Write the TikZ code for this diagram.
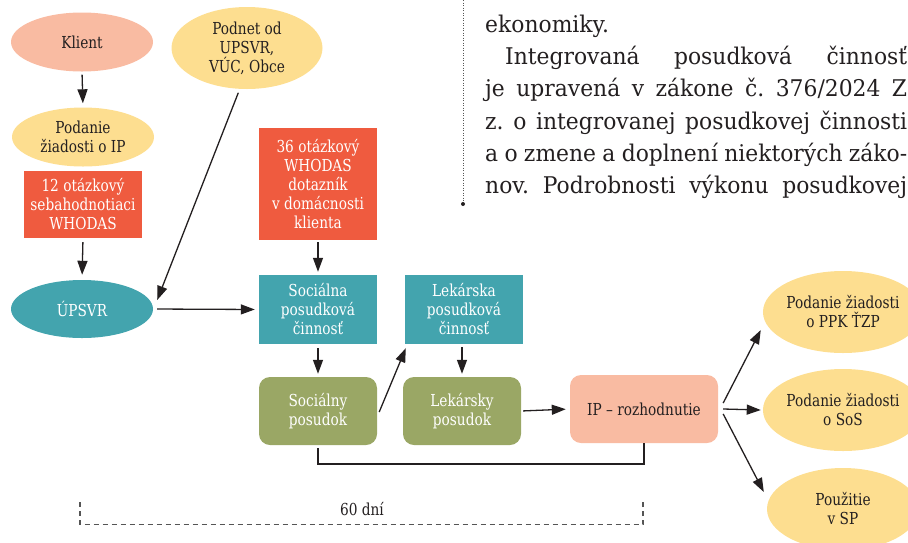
\documentclass[tikz,border=0pt]{standalone}
\usepackage{fontspec}
\setmainfont{DejaVu Serif}
\newfontfamily\lblfont{DejaVu Serif}[FakeStretch=0.83]
\newfontfamily\bodyfont{DejaVu Serif}[FakeStretch=0.95]
\usetikzlibrary{shapes.geometric,arrows.meta}
\definecolor{csalmon}{HTML}{F9BBA2}
\definecolor{cyellow}{HTML}{FDDE90}
\definecolor{cred}{HTML}{EF5B3F}
\definecolor{cteal}{HTML}{43A4AE}
\definecolor{colive}{HTML}{9AA765}
\definecolor{cdark}{HTML}{231F20}
\definecolor{cgray}{HTML}{555555}
\frenchspacing
\begin{document}
\begin{tikzpicture}[x=1pt,y=-1pt,
  lbl/.style={font=\lblfont\fontsize{16.5}{19}\selectfont, align=center, inner sep=0pt, text=cdark},
  ell/.style={ellipse, lbl},
  boxr/.style={rectangle, lbl, minimum width=118pt, text=white},
  rbox/.style={rectangle, rounded corners=11pt, lbl, minimum width=118pt, minimum height=68pt},
  arr/.style={draw=cdark, line width=1.3pt, -{Triangle[length=14pt,width=10pt]}},
  conn/.style={draw=cdark, line width=1.3pt},
  body/.style={font=\bodyfont\fontsize{23}{32}\selectfont\frenchspacing, text=cdark, inner sep=0pt, anchor=base west}
]
\useasboundingbox (0,0) rectangle (908,542);
\clip (0,0) rectangle (908,542);

% nodes
\node[ell, fill=csalmon, minimum width=142pt, minimum height=59pt] (klient) at (82,42) {Klient};
\node[ell, fill=cyellow, minimum width=151pt, minimum height=82pt] (podnet) at (247,48) {Podnet od\\UPSVR,\\VÚC, Obce};
\node[ell, fill=cyellow, minimum width=142pt, minimum height=59pt] (podanie) at (83,137) {Podanie\\žiadosti o IP};
\node[boxr, fill=cred, minimum height=67pt] (w12) at (83,204.5) {12 otázkový\\sebahodnotiaci\\WHODAS};
\node[boxr, fill=cred, minimum height=112pt] (w36) at (318,184) {36 otázkový\\WHODAS\\dotazník\\v domácnosti\\klienta};
\node[ell, fill=cteal, text=white, minimum width=142pt, minimum height=58pt] (upsvr) at (82,309) {ÚPSVR};
\node[boxr, fill=cteal, minimum height=69pt] (socc) at (318,309.5) {Sociálna\\posudková\\činnosť};
\node[boxr, fill=cteal, minimum height=69pt] (lekc) at (464,309.5) {Lekárska\\posudková\\činnosť};
\node[rbox, fill=colive, text=white] (socp) at (318,411) {Sociálny\\posudok};
\node[rbox, fill=colive, text=white] (lekp) at (462,411) {Lekársky\\posudok};
\node[rbox, fill=csalmon, minimum width=148pt] (ip) at (644,409) {IP – rozhodnutie};
\node[ell, fill=cyellow, minimum width=152pt, minimum height=82pt] (ppk) at (843,312) {Podanie žiadosti\\o PPK ŤZP};
\node[ell, fill=cyellow, minimum width=152pt, minimum height=82pt] (sos) at (843,410) {Podanie žiadosti\\o SoS};
\node[ell, fill=cyellow, minimum width=152pt, minimum height=82pt] (sp) at (843,509) {Použitie\\v SP};

% connectors
\draw[arr, shorten <=3pt, shorten >=4pt] (klient.south) -- (podanie.north);
\draw[arr, shorten <=4pt, shorten >=5pt] (w12.south) -- (upsvr.north);
\draw[arr, shorten <=4pt] (podnet.260) -- ([shift={(4,-9)}]upsvr.east);
\draw[arr, shorten <=4pt, shorten >=4pt] (upsvr.east) -- (socc.west);
\draw[arr, shorten <=2pt, shorten >=3pt] (w36.south) -- (socc.north);
\draw[arr, shorten <=4pt, shorten >=3pt] (socc.south) -- (socp.north);
\draw[arr] ([shift={(2,1)}]socp.east) -- ([shift={(1,4)}]lekc.south west);
\draw[arr, shorten <=3pt, shorten >=3pt] (lekc.south -| lekp.north) -- (lekp.north);
\draw[arr, shorten <=2pt, shorten >=4pt] (lekp.east) -- (ip.west);
\draw[conn] ([yshift=-3pt]socp.south) -- (socp.south |- 0,464) -| (ip.south);
\draw[arr] ([shift={(5,-6)}]ip.east) -- ([shift={(-2,18)}]ppk.west);
\draw[arr] ([xshift=5pt]ip.east) -- ([xshift=-2pt]sos.west);
\draw[arr] ([shift={(5,5)}]ip.east) -- ([shift={(-3,-17)}]sp.west);

% 60 days bracket
\coordinate (bl) at (80,502);
\coordinate (br) at (643,499);
\draw[cgray, line width=1.2pt, dash pattern=on 5pt off 4pt] (bl) |- (br |- 0,524.5) -- (br);
\node[lbl] (days) at (362,509) {60 dní};

% text column
\coordinate (dtop) at (463,0);
\coordinate (dbot) at (463,204);
\draw[cgray, line width=0.8pt, dash pattern=on 1pt off 1.5pt] (dtop) -- (dbot);
\fill[cdark] (dbot) circle (2pt);
\node[body] (t1) at (485,32) {ekonomiky.};
\node[body] (t2) at (505,64) {\hbox to 402pt{\spaceskip=0.25em plus 1fil minus 0.15em Integrovaná posudková činnosť}};
\node[body] (t3) at (485,96.5) {\hbox to 422pt{\spaceskip=0.25em plus 1fil minus 0.15em je upravená v zákone č. 376/2024 Z}};
\node[body] (t4) at (485,129) {\hbox to 422pt{\spaceskip=0.25em plus 1fil minus 0.15em z. o integrovanej posudkovej činnosti}};
\node[body] (t5) at (485,161) {\hbox to 422pt{\spaceskip=0.25em plus 1fil minus 0.15em a o zmene a doplnení niektorých záko-}};
\node[body] (t6) at (485,193) {\hbox to 422pt{\spaceskip=0.25em plus 1fil minus 0.15em nov. Podrobnosti výkonu posudkovej}};
\end{tikzpicture}
\end{document}
